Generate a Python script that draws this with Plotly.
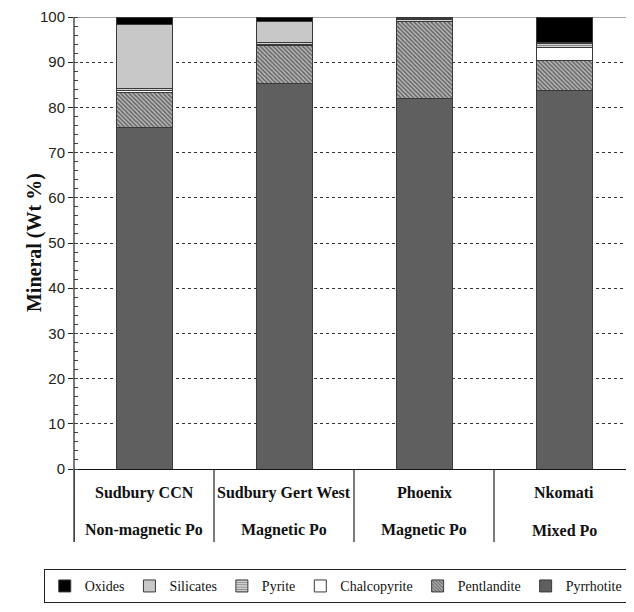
import plotly.graph_objects as go

sites = ["Sudbury CCN", "Sudbury Gert West", "Phoenix", "Nkomati"]
site_types = ["Non-magnetic Po", "Magnetic Po", "Magnetic Po", "Mixed Po"]

pyrrhotite = [75.5, 85.2, 82.0, 83.8]
pentlandite = [7.7, 8.4, 17.0, 6.5]
chalcopyrite = [0.6, 0.3, 0.05, 3.0]
pyrite = [0.3, 0.4, 0.5, 0.9]
silicates = [14.3, 4.6, 0.05, 0.2]
oxides = [1.6, 1.1, 0.4, 5.6]

y_ticks = [0, 10, 20, 30, 40, 50, 60, 70, 80, 90, 100]

xpos = list(range(len(sites)))
serif = "Liberation Serif"
line = dict(color="#3a3a3a", width=1)

fig = go.Figure()
series = [
    ("Pyrrhotite", pyrrhotite, dict(color="#5f5f5f", line=line)),
    ("Pentlandite", pentlandite, dict(color="white", line=line,
        pattern=dict(shape="\\", fgcolor="#111111", bgcolor="#bdbdbd", size=3, solidity=0.55))),
    ("Chalcopyrite", chalcopyrite, dict(color="white", line=line)),
    ("Pyrite", pyrite, dict(color="white", line=line,
        pattern=dict(shape="-", fgcolor="#444444", bgcolor="#d0d0d0", size=3, solidity=0.35))),
    ("Silicates", silicates, dict(color="#c8c8c8", line=line)),
    ("Oxides", oxides, dict(color="#000000", line=line)),
]
for name, vals, marker in series:
    fig.add_trace(go.Bar(x=xpos, y=vals, name=name, marker=marker, width=0.4))

shapes = []
for xv in [-0.5, 0.5, 1.5, 2.5, 3.5]:
    shapes.append(dict(type="line", xref="x", yref="paper", x0=xv, x1=xv,
                       y0=-0.1615, y1=0, line=dict(color="#222", width=1.2)))
shapes.append(dict(type="line", xref="paper", yref="paper", x0=0, x1=0,
                   y0=-0.1615, y1=1, line=dict(color="#222", width=1.2)))
shapes.append(dict(type="line", xref="paper", yref="y", x0=0, x1=1,
                   y0=100, y1=100, line=dict(color="#888", width=1.5), layer="below"))

annotations = []
for i, (s, t) in enumerate(zip(sites, site_types)):
    annotations.append(dict(x=i, y=-0.053, xref="x", yref="paper", text="<b>" + s + "</b>",
                            showarrow=False, font=dict(family=serif, size=16, color="#111"),
                            yanchor="middle"))
    annotations.append(dict(x=i, y=-0.135, xref="x", yref="paper", text="<b>" + t + "</b>",
                            showarrow=False, font=dict(family=serif, size=16, color="#111"),
                            yanchor="middle"))
annotations.append(dict(x=-0.0714, y=0.5, xref="paper", yref="paper", text="<b>Mineral (Wt %)</b>",
                        textangle=-90, showarrow=False, xanchor="center", yanchor="middle",
                        font=dict(family=serif, size=20, color="#111")))

fig.update_layout(
    width=626, height=604,
    margin=dict(l=66, r=0, t=9, b=143, autoexpand=False),
    barmode="stack",
    paper_bgcolor="white", plot_bgcolor="white",
    shapes=shapes, annotations=annotations,
    showlegend=True,
    legend=dict(orientation="h", traceorder="reversed", x=-0.054, y=-0.222,
                xanchor="left", yanchor="top", itemwidth=30,
                font=dict(family=serif, size=14, color="#111"),
                bordercolor="#222", borderwidth=1, bgcolor="white"),
    xaxis=dict(range=[-0.5, 3.5], showticklabels=False, ticks="", showgrid=False,
               showline=True, linecolor="#111", linewidth=1.2, zeroline=False, fixedrange=True),
    yaxis=dict(range=[0, 100], tickvals=y_ticks, ticks="outside", ticklen=5, tickcolor="#222",
               showline=False, showgrid=True, gridcolor="#333", griddash="dot", gridwidth=1,
               zeroline=False,
               tickfont=dict(family="Liberation Sans", size=15, color="#222"),
               minor=dict(dtick=2, ticks="inside", ticklen=4, tickcolor="#444", showgrid=False)),
)

fig.write_html("out.html")
